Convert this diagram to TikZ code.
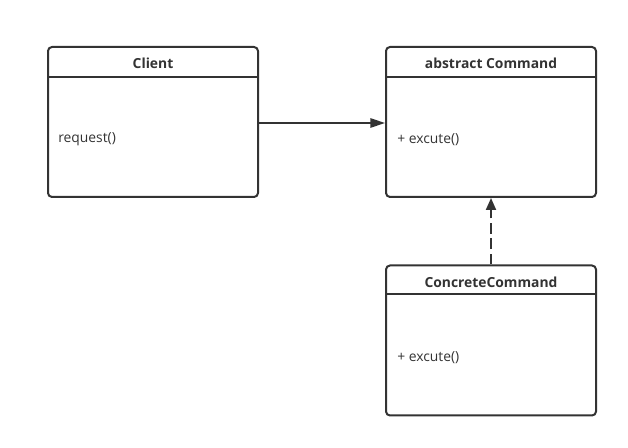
\documentclass[tikz,border=0pt]{standalone}
\usepackage{fontspec}
\setmainfont{Open Sans}
\usetikzlibrary{arrows.meta,calc}
\definecolor{ink}{HTML}{333333}
\tikzset{
  classbox/.style={draw=ink, line width=1.5pt, rounded corners=3pt,
    minimum width=157.5pt, minimum height=112.5pt, inner sep=0pt},
  divider/.style={draw=ink, line width=1.5pt},
  title/.style={font=\fontsize{10.4}{12}\selectfont\bfseries, text=ink},
  member/.style={font=\fontsize{10.4}{12}\selectfont, text=ink, anchor=west, inner sep=0pt},
  assoc/.style={draw=ink, line width=1.5pt, -{Triangle[length=11pt,width=7pt]}},
  realize/.style={draw=ink, line width=1.5pt, dash pattern=on 8pt off 3.5pt,
    -{Triangle[length=9pt,width=7.5pt]}}
}
\begin{document}
\begin{tikzpicture}[x=0.75pt,y=-0.75pt]
\useasboundingbox (0,0) rectangle (628,448);

% Client class
\node[classbox] (client) at (153,122) {};
\draw[divider] ($(client.north west)+(0,31)$) coordinate (cdl) -- ($(client.north east)+(0,31)$) coordinate (cdr);
\node[title] (clientname) at (153,63.5) {Client};
\node[member] (clientop) at (58,139.5) {request()};

% Abstract command
\node[classbox] (cmd) at (491,122) {};
\draw[divider] ($(cmd.north west)+(0,31)$) coordinate (adl) -- ($(cmd.north east)+(0,31)$) coordinate (adr);
\node[title] (cmdname) at (491,63.5) {abstract Command};
\node[member] (cmdop) at (397,139.5) {+ excute()};

% Concrete command
\node[classbox] (conc) at (491,340.5) {};
\draw[divider] ($(conc.north west)+(0,30)$) coordinate (kdl) -- ($(conc.north east)+(0,30)$) coordinate (kdr);
\node[title] (concname) at (491,282) {ConcreteCommand};
\node[member] (concop) at (397,357.5) {+ excute()};

% Relations
\draw[assoc] (client.east |- 0,123) -- (cmd.west |- 0,123);
\draw[realize] (conc.north) -- (cmd.south);
\end{tikzpicture}
\end{document}
